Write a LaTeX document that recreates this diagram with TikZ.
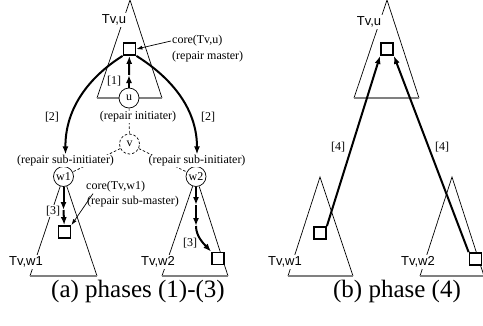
\documentclass[tikz,border=0pt]{standalone}
\usepackage{fontspec}
\setmainfont{Liberation Serif}
\newfontfamily\tvfont{Liberation Sans}
\usetikzlibrary{arrows.meta}

\begin{document}
\begin{tikzpicture}[x=1pt,y=-1pt,
  lbl/.style={font=\fontsize{12}{13}\selectfont,inner sep=1pt},
  wlbl/.style={lbl,fill=white},
  tv/.style={font=\tvfont\fontsize{13}{14}\selectfont,inner sep=1.5pt,fill=white},
  peer/.style={circle,draw,fill=white,line width=0.7pt,minimum size=20pt,inner sep=0pt,font=\fontsize{12}{13}\selectfont},
  core/.style={draw,fill=white,line width=1.8pt,minimum size=12pt,inner sep=0pt},
  side/.style={line width=0.7pt},
  bottom/.style={draw=gray,line width=1.5pt},
  hop/.style={-{Latex[length=8pt,width=6pt]},line width=2pt},
  ptr/.style={-{Latex[length=6pt,width=4pt]},line width=0.7pt},
  repair/.style={dash pattern=on 2.5pt off 2pt,line width=0.7pt},
  subcap/.style={font=\fontsize{25}{28}\selectfont,anchor=base}]

\useasboundingbox (0,0) rectangle (483,325);

% (a) phases (1)-(3)
\coordinate (au) at (130,0);
\coordinate (ul) at (97,98);
\coordinate (ur) at (162,98);
\draw[side] (ul) -- (au) -- (ur);
\draw[bottom] (ul) -- (ur);

\node[peer] (u) at (129,98) {u};
\node[peer,repair] (v) at (129.5,144) {v};
\node[peer] (w1) at (63.5,176.5) {w1};
\node[peer] (w2) at (196,176.5) {w2};

\coordinate (w1l) at (30,276);
\coordinate (w1r) at (97,276);
\coordinate (w2l) at (162,276);
\coordinate (w2r) at (228,276);
\draw[side] (w1) -- (w1l);
\draw[side] (w1) -- (w1r);
\draw[bottom] (w1l) -- (w1r);
\draw[side] (w2) -- (w2l);
\draw[side] (w2) -- (w2r);
\draw[bottom] (w2l) -- (w2r);

\draw[repair] (u) -- (v);
\draw[repair] (v) -- (w1);
\draw[repair] (v) -- (w2);

\node[core] (cu) at (129.5,49) {};
\node[core] (cw1) at (64.5,232) {};
\node[core] (cw2) at (218,258.5) {};

\node[tv] (tu) at (114,20) {Tv,u};
\node[tv] (tw1) at (26,262) {Tv,w1};
\node[tv] (tw2) at (158,262) {Tv,w2};

\node[lbl,anchor=west] (ctu) at (171,41) {core(Tv,u)};
\node[lbl,anchor=west] (rmu) at (171,57) {(repair master)};
\node[wlbl] (ini) at (138,117) {(repair initiater)};
\node[wlbl] (lsub) at (65.5,161) {(repair sub-initiater)};
\node[wlbl] (rsub) at (197,161) {(repair sub-initiater)};
\node[lbl,anchor=west] (ctw1) at (85,187) {core(Tv,w1)};
\node[lbl,anchor=west] (rmw1) at (86,202) {(repair sub-master)};

\node[lbl] (l1) at (114,81) {[1]};
\node[lbl] (l2a) at (52,117) {[2]};
\node[lbl] (l2b) at (208,117) {[2]};
\node[wlbl] (l3a) at (53,211) {[3]};
\node[lbl] (l3b) at (190,243) {[3]};

\draw[ptr] (ctu.west) -- (cu.east);
\draw[ptr] ([xshift=8pt]ctw1.south west) -- (cw1.north east);

\coordinate (h1) at (129,75);
\draw[hop] (u) -- (h1);
\draw[hop] (h1) -- (cu);
\draw[hop] (cu.south west) .. controls (100,70) and (65,100) .. (lsub.north);
\draw[hop] (cu.south east) .. controls (159,70) and (197,100) .. (rsub.north);
\coordinate (h3) at (63.5,210);
\draw[hop] (w1) -- (h3);
\draw[hop] (h3) -- (cw1);
\coordinate (h4) at (196,205);
\coordinate (h5) at (196,226);
\draw[hop] (w2) -- (h4);
\draw[hop] (h4) -- (h5);
\draw[hop] (h5) .. controls (196,236) and (203,243) .. (cw2.north west);

\node[subcap] (capa) at (138,297.5) {(a) phases (1)-(3)};

% (b) phase (4)
\coordinate (bau) at (387,0);
\coordinate (bul) at (354,98);
\coordinate (bur) at (419,98);
\draw[side] (bul) -- (bau) -- (bur);
\draw[bottom] (bul) -- (bur);

\coordinate (baw1) at (320,177);
\coordinate (bw1l) at (288,276);
\coordinate (bw1r) at (353,276);
\draw[side] (bw1l) -- (baw1) -- (bw1r);
\draw[bottom] (bw1l) -- (bw1r);

\coordinate (baw2) at (452,177);
\coordinate (bw2l) at (420,276);
\coordinate (bw2r) at (484,276);
\draw[side] (bw2l) -- (baw2) -- (bw2r);
\draw[bottom] (bw2l) -- (bw2r);

\node[tv] (btu) at (369,22) {Tv,u};
\node[tv] (btw1) at (285,262) {Tv,w1};
\node[tv] (btw2) at (418,262) {Tv,w2};

\node[core] (bcu) at (387,49) {};
\node[core] (bcw1) at (320,233) {};
\node[core] (bcw2) at (475.5,259) {};

\node[lbl] (l4a) at (338,147) {[4]};
\node[lbl] (l4b) at (442,147) {[4]};

\draw[hop] (bcw1.north east) -- (bcu.south west);
\draw[hop] (bcw2.north west) -- (bcu.south east);

\node[subcap] (capb) at (397,297.5) {(b) phase (4)};
\end{tikzpicture}
\end{document}
